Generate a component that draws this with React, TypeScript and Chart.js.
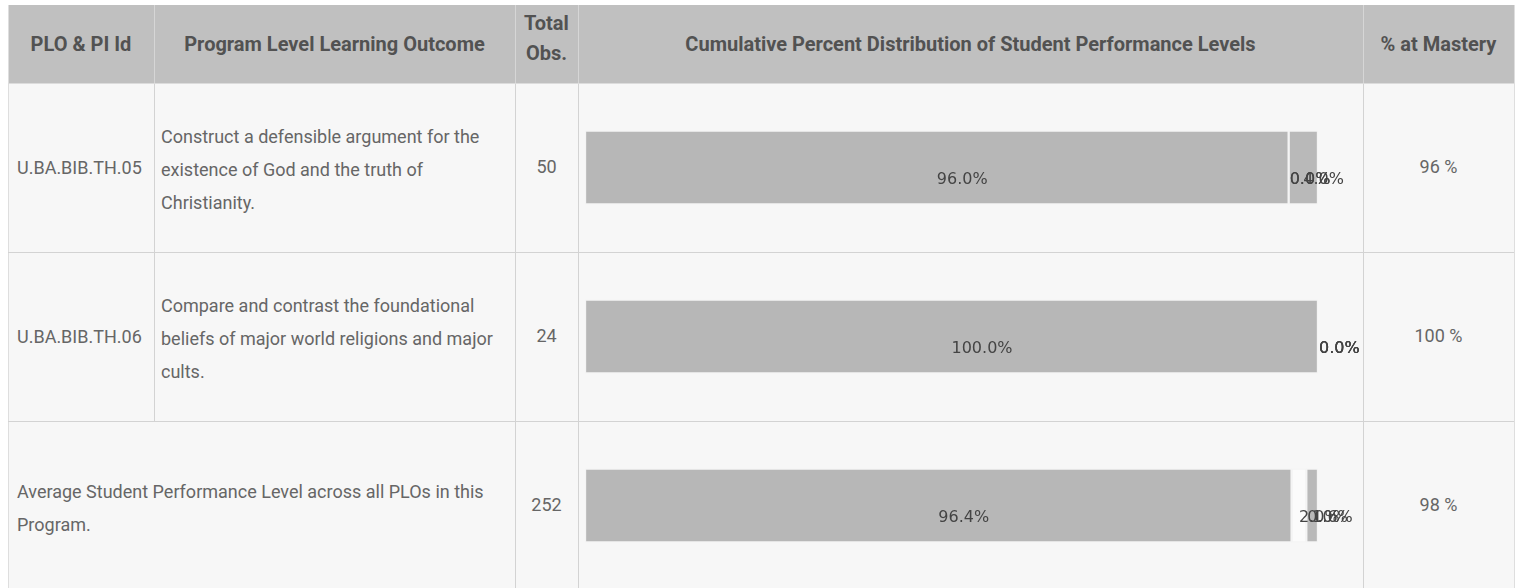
import React, { useEffect, useRef } from 'react';
import { Chart, registerables } from 'chart.js';
Chart.register(...registerables);

const headers = ['PLO & PI Id', 'Program Level Learning Outcome', 'Total Obs.', 'Cumulative Percent Distribution of Student Performance Levels', '% at Mastery'];
const categories = ['U.BA.BIB.TH.05', 'U.BA.BIB.TH.06', 'Average Student Performance Level across all PLOs in this Program.'];
const outcomeLines = [
  ['Construct a defensible argument for the', 'existence of God and the truth of', 'Christianity.'],
  ['Compare and contrast the foundational', 'beliefs of major world religions and major', 'cults.'],
  ['Average Student Performance Level across all PLOs in this', 'Program.'],
];
const totalObs = [50, 24, 252];
const level1 = [96.0, 100.0, 96.4];
const level2 = [0.0, 0.0, 2.0];
const level3 = [0.0, 0.0, 0.0];
const level4 = [4.0, 0.0, 1.6];
const mastery = [96, 100, 98];

const COLS = [8, 154, 515, 578, 1363, 1514];
const HEAD_TOP = 5;
const HEAD_BOTTOM = 83;
const ROW_H = 169;

const labelPlugin = {
  id: 'segLabels',
  afterDatasetsDraw(chart: any) {
    const ctx = chart.ctx;
    ctx.save();
    ctx.font = '16px "DejaVu Sans"';
    ctx.fillStyle = '#444';
    ctx.textAlign = 'left';
    ctx.textBaseline = 'middle';
    chart.data.datasets.forEach((ds: any, di: number) => {
      const meta = chart.getDatasetMeta(di);
      meta.data.forEach((bar: any, i: number) => {
        const p = bar.getProps(['x', 'base', 'y'], true);
        const v = ds.data[i] as number;
        ctx.fillText(v.toFixed(1) + '%', (p.x + p.base) / 2 + (v === 0 ? 1 : 0), p.y + 12);
      });
    });
    ctx.restore();
  },
};

function BarColumn() {
  const ref = useRef<HTMLCanvasElement>(null);
  useEffect(() => {
    const common = { barThickness: 74, borderWidth: 1.5, borderColor: '#f4f4f4', borderSkipped: false };
    const chart = new Chart(ref.current!, {
      type: 'bar',
      data: {
        labels: categories,
        datasets: [
          { label: 'Level 1', data: level1, backgroundColor: '#b7b7b7', ...common },
          { label: 'Level 2', data: level2, backgroundColor: '#fbfbfb', ...common },
          { label: 'Level 3', data: level3, backgroundColor: '#c8c8c8', ...common },
          { label: 'Level 4', data: level4, backgroundColor: '#b9b9b9', ...common },
        ],
      },
      options: {
        indexAxis: 'y',
        animation: false,
        responsive: false,
        maintainAspectRatio: false,
        layout: { padding: { left: 7, right: 45, top: 0, bottom: 0 } },
        scales: {
          x: { stacked: true, min: 0, max: 100, display: false },
          y: { stacked: true, display: false },
        },
        plugins: { legend: { display: false }, tooltip: { enabled: false } },
      } as any,
      plugins: [labelPlugin],
    });
    return () => chart.destroy();
  }, []);
  return (
    <canvas
      ref={ref}
      width={COLS[4] - COLS[3]}
      height={ROW_H * 3}
      style={{ position: 'absolute', left: COLS[3], top: HEAD_BOTTOM, width: COLS[4] - COLS[3], height: ROW_H * 3 }}
    />
  );
}

const bodyFont = { fontFamily: 'Roboto', fontSize: 18, color: '#666' };
const headFont = { fontFamily: 'Roboto', fontSize: 20, fontWeight: 700, color: '#525252' };

function Cell(props: { x1: number; x2: number; y1: number; y2: number; align?: 'left' | 'center'; pad?: number; lh?: number; dy?: number; font: any; children: any }) {
  const { x1, x2, y1, y2, align = 'center', pad = 0, lh = 33, dy = 0, font, children } = props;
  return (
    <div
      style={{
        position: 'absolute', left: x1, top: y1 + dy, width: x2 - x1, height: y2 - y1,
        display: 'flex', alignItems: 'center', justifyContent: align === 'center' ? 'center' : 'flex-start',
        textAlign: align, paddingLeft: pad, boxSizing: 'border-box', lineHeight: lh + 'px', whiteSpace: 'nowrap', ...font,
      }}
    >
      <div>{children}</div>
    </div>
  );
}

export default function App() {
  const lineColor = '#d3d3d3';
  const vline = (x: number, y1: number, y2: number, c = lineColor, w = 1) => (
    <div key={'v' + x + '-' + y1} style={{ position: 'absolute', left: x, top: y1, width: w, height: y2 - y1, background: c }} />
  );
  const hline = (y: number, x1: number, x2: number, c = lineColor, w = 1) => (
    <div key={'h' + y} style={{ position: 'absolute', left: x1, top: y, width: x2 - x1, height: w, background: c }} />
  );
  const rowTop = (i: number) => HEAD_BOTTOM + i * ROW_H;
  return (
    <div style={{ position: 'absolute', left: 0, top: 0, width: 1523, height: 588, overflow: 'hidden', background: '#ffffff' }}>
      <div style={{ position: 'absolute', left: COLS[0], top: HEAD_TOP, width: COLS[5] - COLS[0], height: 620, background: '#f7f7f7' }} />
      <div style={{ position: 'absolute', left: COLS[0], top: HEAD_TOP, width: COLS[5] - COLS[0], height: HEAD_BOTTOM - HEAD_TOP, background: '#c0c0c0' }} />
      {[COLS[1], COLS[2], COLS[3], COLS[4]].map((x) => vline(x, HEAD_TOP, HEAD_BOTTOM, '#d6d6d6'))}
      {vline(COLS[0], HEAD_TOP, 600, '#dedede')}
      {vline(COLS[5], HEAD_TOP, 600, '#dedede')}
      {vline(COLS[1], HEAD_BOTTOM, rowTop(2), lineColor)}
      {vline(COLS[2], HEAD_BOTTOM, 600, lineColor)}
      {vline(COLS[3], HEAD_BOTTOM, 600, lineColor)}
      {vline(COLS[4], HEAD_BOTTOM, 600, lineColor)}
      {hline(HEAD_BOTTOM, COLS[0], COLS[5], '#dcdcdc')}
      {hline(rowTop(1), COLS[0], COLS[5])}
      {hline(rowTop(2), COLS[0], COLS[5])}

      <Cell x1={COLS[0]} x2={COLS[1]} y1={HEAD_TOP} y2={HEAD_BOTTOM} font={headFont}>{headers[0]}</Cell>
      <Cell x1={COLS[1]} x2={COLS[2]} y1={HEAD_TOP} y2={HEAD_BOTTOM} font={headFont}>{headers[1]}</Cell>
      <Cell x1={COLS[2]} x2={COLS[3]} y1={HEAD_TOP} y2={HEAD_BOTTOM} font={headFont} lh={30} dy={-6}>
        {headers[2].split(' ').map((w, i) => <div key={i}>{w}</div>)}
      </Cell>
      <Cell x1={COLS[3]} x2={COLS[4]} y1={HEAD_TOP} y2={HEAD_BOTTOM} font={headFont}>{headers[3]}</Cell>
      <Cell x1={COLS[4]} x2={COLS[5]} y1={HEAD_TOP} y2={HEAD_BOTTOM} font={headFont}>{headers[4]}</Cell>

      {[0, 1, 2].map((i) => {
        const y1 = rowTop(i);
        const y2 = y1 + ROW_H;
        const cells = [] as any[];
        if (i < 2) {
          cells.push(<Cell key="id" x1={COLS[0]} x2={COLS[1]} y1={y1} y2={y2} align="left" pad={9} font={bodyFont}>{categories[i]}</Cell>);
          cells.push(
            <Cell key="out" x1={COLS[1]} x2={COLS[2]} y1={y1} y2={y2} align="left" pad={7} dy={2} font={bodyFont}>
              {outcomeLines[i].map((l, k) => <div key={k}>{l}</div>)}
            </Cell>
          );
        } else {
          cells.push(
            <Cell key="out" x1={COLS[0]} x2={COLS[2]} y1={y1} y2={y2} align="left" pad={9} dy={2} font={bodyFont}>
              {outcomeLines[i].map((l, k) => <div key={k}>{l}</div>)}
            </Cell>
          );
        }
        cells.push(<Cell key="obs" x1={COLS[2]} x2={COLS[3]} y1={y1} y2={y2 - 2} font={bodyFont}>{totalObs[i]}</Cell>);
        cells.push(<Cell key="m" x1={COLS[4]} x2={COLS[5]} y1={y1} y2={y2 - 2} font={bodyFont}>{mastery[i] + ' %'}</Cell>);
        return <React.Fragment key={i}>{cells}</React.Fragment>;
      })}
      <BarColumn />
    </div>
  );
}
